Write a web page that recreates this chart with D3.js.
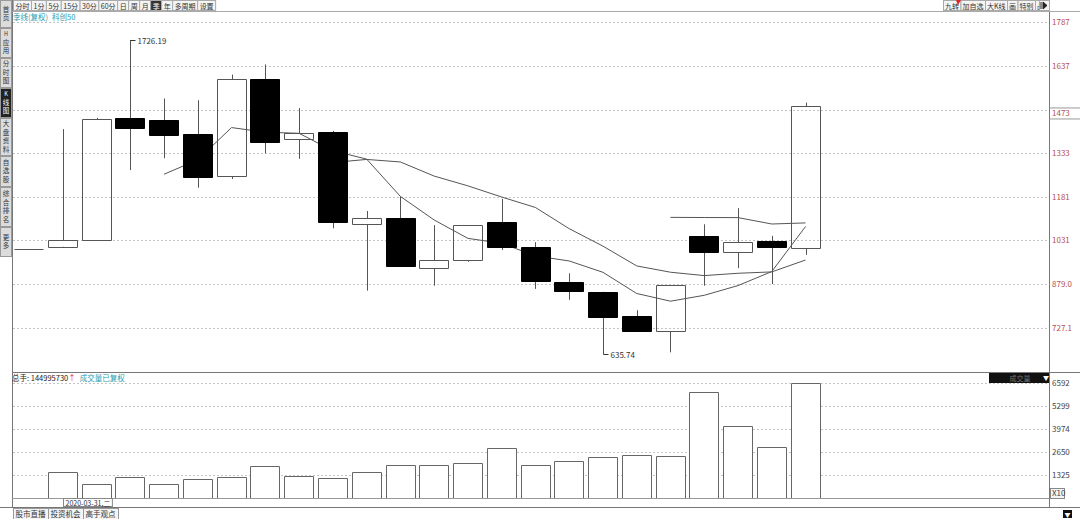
<!DOCTYPE html>
<html>
<head>
<meta charset="utf-8">
<script src="https://cdn.jsdelivr.net/npm/d3@7/dist/d3.min.js"></script>
<style>
body { margin: 0; background: #fff; }
svg { display: block; font-family: "Noto Sans CJK SC", "Liberation Sans", sans-serif; }
</style>
</head>
<body>
<div id="chart"></div>
<script>
// quarterly candles, 科创50
const dates = ["2019-12-31", "2020-03-31", "2020-06-30", "2020-09-30", "2020-12-31", "2021-03-31",
  "2021-06-30", "2021-09-30", "2021-12-31", "2022-03-31", "2022-06-30", "2022-09-30",
  "2022-12-31", "2023-03-31", "2023-06-30", "2023-09-30", "2023-12-31", "2024-03-31",
  "2024-06-30", "2024-09-30", "2024-12-31", "2025-03-31", "2025-06-30", "2025-09-30"];
const opens = [1001, 1009, 1032, 1456, 1448, 1401, 1255, 1590, 1382, 1406, 1089, 1109,
  937, 963, 1095, 1008, 888, 853, 768, 716, 1048, 990, 1029, 1006];
const highs = [1001, 1417, 1456, 1726.19, 1523, 1517, 1606, 1641, 1490, 1411, 1133, 1183,
  1084, 1084, 1175, 1025, 917, 853, 789, 876, 1087, 1143, 1047, 1509];
const lows = [1001, 1009, 1032, 1275, 1316, 1214, 1244, 1333, 1314, 1073, 857, 944,
  874, 957, 998, 863, 825, 635.74, 716, 643, 874, 935, 880, 981];
const closes = [1001, 1032, 1451, 1422, 1397, 1252, 1590, 1371, 1403, 1094, 1108, 944,
  962, 1084, 1009, 889, 856, 766, 716, 876, 991, 1025, 1008, 1497];

// moving averages as drawn (null = not drawn yet)
const ma5 = [null, null, null, null, 1260.5, 1310.7, 1422.3, 1406.3, 1402.5, 1341.9, 1313.1, 1183.8,
  1102.0, 1038.2, 1021.2, 977.4, 959.9, 920.6, 847.1, 820.4, 840.8, 874.5, 923.1, 1079.3];
const ma10 = [null, null, null, null, null, null, null, null, null, 1301.2, 1311.9, 1303.1,
  1254.2, 1220.3, 1181.6, 1145.3, 1071.9, 1011.3, 942.7, 920.8, 909.1, 917.2, 921.9, 963.2];
const ma20 = [null, null, null, null, null, null, null, null, null, null, null, null,
  null, null, null, null, null, null, null, 1111.0, 1110.5, 1110.2, 1088.0, 1091.8];

const volumes = [0, 1459, 784, 1171, 784, 1055, 1171, 1822, 1228, 1113, 1459, 1880,
  1880, 1995, 2843, 1880, 2111, 2324, 2457, 2399, 6107, 4129, 2918, 6592];

const priceGrid = [1787, 1637, 1485, 1333, 1181, 1031, 879.0, 727.1];
const priceLabels = ["1787", "1637", "", "1333", "1181", "1031", "879.0", "727.1"];
const lastPrice = "1473";
const volTicks = [6592, 5299, 3974, 2650, 1325];

const W = 1080, H = 519;
const axisX = 1049.5;

const svg = d3.select("#chart").append("svg").attr("width", W).attr("height", H);

const xScale = d3.scaleBand().domain(dates).range([12.1, 822.4])
  .paddingInner(0.12).paddingOuter(0.06);
const yScale = d3.scaleLinear().domain([727.1, 1787]).range([328.1, 22.4]);
const vScale = d3.scaleLinear().domain([0, 6592]).range([497.6, 383.3]);
const bw = xScale.bandwidth();
const cx = d => xScale(d) + bw / 2;
const px = v => Math.round(v) + 0.5;

// ---- grid lines
svg.append("g").selectAll("line").data(priceGrid).join("line")
  .attr("x1", 13).attr("x2", axisX)
  .attr("y1", d => px(yScale(d))).attr("y2", d => px(yScale(d)))
  .attr("stroke", "#c4c4c4").attr("stroke-dasharray", "2,2");
svg.append("g").selectAll("line").data(volTicks).join("line")
  .attr("x1", 13).attr("x2", axisX)
  .attr("y1", d => px(vScale(d))).attr("y2", d => px(vScale(d)))
  .attr("stroke", "#c4c4c4").attr("stroke-dasharray", "2,2");

// ---- moving averages (under the black bodies, seen through hollow ones)
const maLine = d3.line()
  .defined(d => d.v != null)
  .x(d => cx(d.date))
  .y(d => yScale(d.v));
[ma5, ma10, ma20].forEach(arr => {
  svg.append("path")
    .datum(arr.map((v, i) => ({ date: dates[i], v: v })))
    .attr("fill", "none").attr("stroke", "#555").attr("stroke-width", 1)
    .attr("d", maLine);
});

// ---- candles
const idx = d3.range(dates.length);
const candles = svg.append("g");
const bodyTop = i => px(yScale(Math.max(opens[i], closes[i])));
const bodyBot = i => px(yScale(Math.min(opens[i], closes[i])));
candles.selectAll("line.up").data(idx).join("line")
  .attr("x1", i => px(cx(dates[i]))).attr("x2", i => px(cx(dates[i])))
  .attr("y1", i => yScale(highs[i])).attr("y2", bodyTop)
  .attr("stroke", "#555");
candles.selectAll("line.dn").data(idx).join("line")
  .attr("x1", i => px(cx(dates[i]))).attr("x2", i => px(cx(dates[i])))
  .attr("y1", bodyBot).attr("y2", i => yScale(lows[i]))
  .attr("stroke", "#555");
candles.selectAll("path.body").data(idx).join("path")
  .attr("d", i => {
    const x0 = px(xScale(dates[i])), x1 = x0 + Math.round(bw) - 1;
    if (bodyTop(i) === bodyBot(i)) return "M" + x0 + "," + bodyTop(i) + "H" + x1;
    return "M" + x0 + "," + bodyTop(i) + "H" + x1 + "V" + bodyBot(i) + "H" + x0 + "Z";
  })
  .attr("fill", i => closes[i] < opens[i] ? "#000" : "none")
  .attr("stroke", i => closes[i] < opens[i] ? "#000" : "#555");

// ---- high / low marks
function mark(i, v, text) {
  const x = px(cx(dates[i])), y = px(yScale(v));
  svg.append("line").attr("x1", x).attr("x2", x + 5).attr("y1", y).attr("y2", y).attr("stroke", "#333");
  svg.append("text").attr("x", x + 7).attr("y", y + 3).attr("font-size", 8).attr("fill", "#333").text(text);
}
mark(highs.indexOf(d3.max(highs)), d3.max(highs), "1726.19");
mark(lows.indexOf(d3.min(lows)), d3.min(lows), "635.74");

// ---- volume bars
svg.append("g").selectAll("path").data(idx).join("path")
  .attr("d", i => {
    const x0 = px(xScale(dates[i])), x1 = x0 + Math.round(bw) - 1;
    const y0 = px(vScale(volumes[i])), y1 = px(vScale(0));
    return "M" + x0 + "," + y1 + "V" + y0 + "H" + x1 + "V" + y1 + "Z";
  })
  .attr("fill", "#fff").attr("stroke", "#666");

// ---- frame lines
const frame = svg.append("g").attr("stroke", "#777").attr("fill", "none");
frame.append("line").attr("x1", 12.5).attr("x2", 12.5).attr("y1", 0).attr("y2", 508);
frame.append("line").attr("x1", axisX).attr("x2", axisX).attr("y1", 12).attr("y2", 508);
frame.append("line").attr("x1", 12).attr("x2", W).attr("y1", 11.5).attr("y2", 11.5).attr("stroke", "#aaa");
frame.append("line").attr("x1", 12).attr("x2", W).attr("y1", 372.5).attr("y2", 372.5);
frame.append("line").attr("x1", 12).attr("x2", axisX).attr("y1", 498.5).attr("y2", 498.5).attr("stroke", "#999");
frame.append("line").attr("x1", 0).attr("x2", W).attr("y1", 507.5).attr("y2", 507.5);

// ---- right axes
svg.append("g").selectAll("text").data(priceGrid).join("text")
  .attr("x", 1052).attr("y", d => yScale(d) + 3)
  .attr("font-size", 8).attr("fill", "#b5504f")
  .text((d, i) => priceLabels[i]);
const lastY = yScale(+lastPrice);
svg.append("line").attr("x1", axisX).attr("x2", W).attr("y1", lastY - 5).attr("y2", lastY - 5).attr("stroke", "#999");
svg.append("line").attr("x1", axisX).attr("x2", W).attr("y1", lastY + 6).attr("y2", lastY + 6).attr("stroke", "#999");
svg.append("text").attr("x", 1052).attr("y", lastY + 3).attr("font-size", 8).attr("fill", "#b5504f").text(lastPrice);

svg.append("g").selectAll("text").data(volTicks).join("text")
  .attr("x", 1052).attr("y", d => vScale(d) + 3)
  .attr("font-size", 8).attr("fill", "#444")
  .text(d => d);
svg.append("rect").attr("x", 1050.5).attr("y", 488.5).attr("width", 14).attr("height", 10)
  .attr("fill", "#f4f4f4").attr("stroke", "#888");
svg.append("text").attr("x", 1052).attr("y", 496).attr("font-size", 8).attr("fill", "#444").text("X10");

// ---- volume header
const vh = svg.append("text").attr("x", 12).attr("y", 381).attr("font-size", 7.5);
vh.append("tspan").attr("fill", "#222").text("总手: 144995730");
vh.append("tspan").attr("fill", "#e03030").text("↑");
vh.append("tspan").attr("fill", "#2a9db0").attr("dx", 4).text("成交量已复权");
svg.append("rect").attr("x", 989).attr("y", 373).attr("width", 60).attr("height", 10).attr("fill", "#111");
svg.append("text").attr("x", 1020).attr("y", 381).attr("font-size", 7).attr("text-anchor", "middle").attr("fill", "#777").text("成交量");
svg.append("text").attr("x", 1046).attr("y", 380).attr("font-size", 6).attr("text-anchor", "middle").attr("fill", "#fff").text("▼");

// ---- date flag under the volume panel
const dx = px(cx(dates[1]));
const flag = svg.append("g");
const flagTxt = flag.append("text").attr("x", dx + 2).attr("y", 505.5).attr("font-size", 7)
  .attr("fill", "#333").text("2020-03-31,二");
flag.insert("rect", "text").attr("x", dx).attr("y", 498.5)
  .attr("width", flagTxt.node().getComputedTextLength() + 4).attr("height", 8)
  .attr("fill", "#fff").attr("stroke", "#888");

// ---- legend line
const lg = svg.append("text").attr("x", 13).attr("y", 20).attr("font-size", 7.5).attr("fill", "#2a9db0");
lg.append("tspan").text("季线(复权)");
lg.append("tspan").attr("dx", 4).text("科创50");

// ---- top toolbar
const tabs = ["分时", "1分", "5分", "15分", "30分", "60分", "日", "周", "月", "季", "年", "多周期", "设置"];
let tx = 13;
tabs.forEach(t => {
  const g = svg.append("g");
  const txt = g.append("text").attr("y", 8.5).attr("font-size", 7)
    .attr("fill", t === "季" ? "#fff" : "#333").text(t);
  const w = txt.node().getComputedTextLength() + 4;
  g.insert("rect", "text").attr("x", tx + 0.5).attr("y", 0.5).attr("width", w).attr("height", 10)
    .attr("fill", t === "季" ? "#333" : "#f4f4f4").attr("stroke", "#aaa");
  txt.attr("x", tx + 2.5);
  tx += w;
});

const rtabs = ["九转", "加自选", "大K线", "画", "特别", "凸"];
let rx = 943;
rtabs.forEach(t => {
  const g = svg.append("g");
  const txt = g.append("text").attr("y", 8.5).attr("font-size", 7).attr("fill", "#333").text(t);
  const w = txt.node().getComputedTextLength() + 3.5;
  g.insert("rect", "text").attr("x", rx + 0.5).attr("y", 0.5).attr("width", w).attr("height", 10)
    .attr("fill", "#f4f4f4").attr("stroke", "#aaa");
  txt.attr("x", rx + 2);
  rx += w;
});
svg.append("path").attr("d", "M956,0 L961,0 L958,5 Z").attr("fill", "#d22");
svg.append("rect").attr("x", 1039.5).attr("y", 0.5).attr("width", 10).attr("height", 10).attr("fill", "#f4f4f4").attr("stroke", "#aaa");
svg.append("path").attr("d", "M1041,2 L1041,9 M1043,2 L1047,5.5 L1043,9 Z").attr("stroke", "#222").attr("fill", "#222");

// ---- left side bar, one character per line
const side = [
  { t: "首页", y0: 0, y1: 27 },
  { t: "H应用", y0: 28, y1: 57 },
  { t: "分时图", y0: 58, y1: 87 },
  { t: "K线图", y0: 88, y1: 117, dark: true },
  { t: "大盘资料", y0: 118, y1: 155 },
  { t: "自选股", y0: 156, y1: 186 },
  { t: "综合排名", y0: 187, y1: 226 },
  { t: "更多", y0: 227, y1: 256 }
];
side.forEach(s => {
  svg.append("rect").attr("x", 0.5).attr("y", s.y0 + 0.5).attr("width", 11).attr("height", s.y1 - s.y0)
    .attr("fill", s.dark ? "#222" : "#dcdcdc").attr("stroke", "#999");
  const chars = Array.from(s.t);
  const step = 8.5;
  const start = (s.y0 + s.y1) / 2 - (chars.length * step) / 2 + 6.5;
  chars.forEach((c, k) => {
    svg.append("text").attr("x", 6).attr("y", start + k * step).attr("text-anchor", "middle")
      .attr("font-size", c === "H" || c === "K" ? 5.5 : 6.5)
      .attr("fill", s.dark ? "#fff" : "#333").text(c);
  });
});

// ---- bottom tabs
const btabs = ["股市直播", "投资机会", "高手观点"];
let bx = 13;
btabs.forEach(t => {
  const g = svg.append("g");
  const txt = g.append("text").attr("y", 516.5).attr("font-size", 7.5).attr("fill", "#333").text(t);
  const w = txt.node().getComputedTextLength() + 5;
  g.insert("rect", "text").attr("x", bx + 0.5).attr("y", 508.5).attr("width", w).attr("height", 11)
    .attr("fill", "#f4f4f4").attr("stroke", "#999");
  txt.attr("x", bx + 2.5);
  bx += w;
});
svg.append("rect").attr("x", 1063).attr("y", 510).attr("width", 9).attr("height", 8).attr("fill", "#111");
svg.append("text").attr("x", 1067.5).attr("y", 517).attr("font-size", 6).attr("text-anchor", "middle").attr("fill", "#fff").text("▼");
</script>
</body>
</html>
